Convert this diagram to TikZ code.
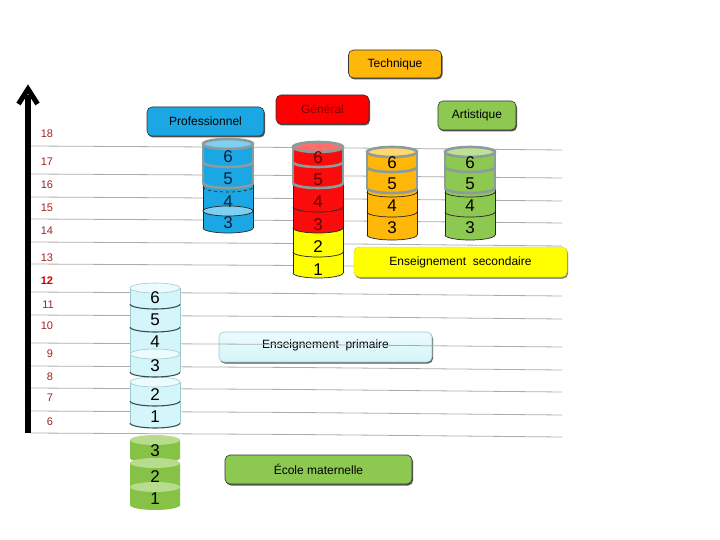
\documentclass[tikz,border=0pt]{standalone}
\usepackage{fontspec}
\setmainfont{Liberation Sans}
\usetikzlibrary{shadows}
\definecolor{cblue}{RGB}{27,167,228}
\definecolor{cbluel}{RGB}{125,208,242}
\definecolor{cred}{RGB}{250,12,12}
\definecolor{credl}{RGB}{255,110,110}
\definecolor{corange}{RGB}{255,183,10}
\definecolor{corangel}{RGB}{255,215,110}
\definecolor{cgreen}{RGB}{141,200,80}
\definecolor{cgreenl}{RGB}{190,225,150}
\definecolor{cyel}{RGB}{255,255,0}
\definecolor{ccyan}{RGB}{212,245,250}
\definecolor{ccyanl}{RGB}{236,251,253}
\definecolor{cmat}{RGB}{134,194,70}
\definecolor{cmatl}{RGB}{184,220,142}
\definecolor{frame}{RGB}{140,155,155}
\definecolor{gridc}{RGB}{172,172,172}
\definecolor{axred}{RGB}{160,35,35}
\definecolor{navy}{RGB}{16,30,58}
\definecolor{maroon}{RGB}{95,0,0}
\definecolor{cyanedge}{RGB}{160,200,208}
\definecolor{slate}{RGB}{50,80,80}
\newcommand\cbody[4]{\fill[#4] ({#1-25},#2) -- ({#1-25},#3) arc[start angle=180,end angle=0,x radius=25,y radius=5] -- ({#1+25},#2) -- cycle;}
\newcommand\cbot[3]{\draw[#3] ({#1-25},#2) arc[start angle=180,end angle=0,x radius=25,y radius=5];}
\newcommand\csides[4]{\draw[#4] ({#1-25},#2) -- ({#1-25},#3) ({#1+25},#2) -- ({#1+25},#3);}
\newcommand\ctop[4]{\filldraw[#4,fill=#3] (#1,#2) ellipse[x radius=25,y radius=5];}
\tikzset{
  box/.style={rounded corners=5pt, draw=black!80, line width=0.6pt, inner sep=0pt,
    font=\fontsize{12}{14}\selectfont,
    drop shadow={shadow xshift=1pt, shadow yshift=-1.5pt, fill=black!65, opacity=1}},
  num/.style={font=\fontsize{17}{19}\selectfont, inner sep=0pt},
  axlab/.style={font=\fontsize{11}{13}\selectfont, text=axred, inner sep=0pt},
  gray frame/.style={draw=frame, line width=2.6pt},
  thin dark/.style={draw=black!85, line width=0.7pt}
}
\begin{document}
\begin{tikzpicture}[x=1pt,y=-1pt]
\useasboundingbox (0,0) rectangle (720,540);
% primaire box (under the lines)
\node[box, draw=cyanedge, top color=ccyanl, bottom color=ccyan, minimum width=213pt, minimum height=30pt,
  drop shadow={shadow xshift=0.5pt, shadow yshift=-1.2pt, fill=black!60}] (prim) at (325.5,347) {};
\node[font=\fontsize{12}{14}\selectfont] (primt) at (325.5,345) {Enseignement~~primaire};
% grid lines
\foreach \y in {146,174,197,219,242,264,292,315,343,366,388,411,433}{
  \draw[gridc, line width=0.8pt] (31,\y) -- (300,\y+1.5) -- (562,\y+4);
}
% axis
\coordinate (axb) at (28,433);
\coordinate (axt) at (28,95);
\draw[line width=6pt] (axb) -- (axt);
\draw[line width=5pt, line join=miter] (18.5,104) -- (28,89) -- (37.5,104);
% axis labels
\node[axlab] (l18) at (47,134) {18};
\node[axlab] (l17) at (47,162) {17};
\node[axlab] (l16) at (47,185) {16};
\node[axlab] (l15) at (47,208) {15};
\node[axlab] (l14) at (47,231) {14};
\node[axlab] (l13) at (47,258) {13};
\node[axlab, font=\fontsize{11}{13}\selectfont\bfseries, text=red!80!black] (l12) at (47,281) {12};
\node[axlab] (l11) at (48,305) {11};
\node[axlab] (l10) at (47,326) {10};
\node[axlab] (l9) at (50,354) {9};
\node[axlab] (l8) at (50,377) {8};
\node[axlab] (l7) at (50,398) {7};
\node[axlab] (l6) at (50,422) {6};
% title boxes
\node[box, fill=corange, minimum width=93pt, minimum height=28pt] (tech) at (395,64) {Technique};
\node[box, fill=cblue, minimum width=117pt, minimum height=29pt] (pro) at (205.5,121.5) {Professionnel};
\node[box, fill=red, text=maroon!80!red, minimum width=93pt, minimum height=29pt] (gen) at (322.5,109.5) {Général};
\node[box, fill=cgreen, minimum width=78pt, minimum height=29pt] (art) at (477,115.5) {Artistique};
\node[box, fill=cyel, draw=yellow!80!black, line width=0.4pt, minimum width=213pt, minimum height=30pt,
  drop shadow={shadow xshift=0.8pt, shadow yshift=-1.2pt, fill=black!25}] (sec) at (460.5,262) {Enseignement~~secondaire};
\node[box, fill=cgreen, minimum width=187pt, minimum height=29pt] (mat) at (318.5,469.5) {École maternelle};
% ---- blue column
\cbody{228}{211}{228}{cblue}
\cbody{228}{183}{211}{cblue}
\cbody{228}{162}{183}{cblue}
\cbody{228}{144}{162}{cblue}
\csides{228}{183}{228}{thin dark}
\cbot{228}{228}{thin dark}
\ctop{228}{211}{cbluel}{thin dark}
\cbot{228}{187}{thin dark, dashed}
\csides{228}{162}{183}{gray frame}
\cbot{228}{183}{gray frame}
\csides{228}{144}{162}{gray frame}
\cbot{228}{162}{gray frame}
\ctop{228}{144}{cbluel}{gray frame}
% ---- red / yellow column
\cbody{318}{252}{273}{cyel}
\cbody{318}{228}{252}{cyel}
\cbody{318}{207}{228}{cred}
\cbody{318}{183}{207}{cred}
\cbody{318}{162}{183}{cred}
\cbody{318}{147}{162}{cred}
\csides{318}{183}{273}{thin dark}
\cbot{318}{273}{thin dark}
\cbot{318}{252}{thin dark}
\cbot{318}{228}{thin dark}
\cbot{318}{207}{thin dark}
\csides{318}{162}{183}{gray frame}
\cbot{318}{183}{gray frame}
\csides{318}{147}{162}{gray frame}
\cbot{318}{162}{gray frame}
\ctop{318}{147}{credl}{gray frame}
% ---- orange column
\cbody{392}{212}{235}{corange}
\cbody{392}{188}{212}{corange}
\cbody{392}{167}{188}{corange}
\cbody{392}{152}{167}{corange}
\csides{392}{188}{235}{thin dark}
\cbot{392}{235}{thin dark}
\cbot{392}{212}{thin dark}
\cbot{392}{192}{thin dark}
\csides{392}{167}{188}{gray frame}
\cbot{392}{188}{gray frame}
\csides{392}{152}{167}{gray frame}
\cbot{392}{167}{gray frame}
\ctop{392}{152}{corangel}{gray frame}
% ---- green column
\cbody{470}{212}{235}{cgreen}
\cbody{470}{188}{212}{cgreen}
\cbody{470}{167}{188}{cgreen}
\cbody{470}{152}{167}{cgreen}
\csides{470}{188}{235}{thin dark}
\cbot{470}{235}{thin dark}
\cbot{470}{212}{thin dark}
\cbot{470}{192}{thin dark}
\csides{470}{167}{188}{gray frame}
\cbot{470}{188}{gray frame}
\csides{470}{152}{167}{gray frame}
\cbot{470}{167}{gray frame}
\ctop{470}{152}{cgreenl}{gray frame}
% ---- primary column
\cbody{155}{401}{423}{ccyan}
\cbody{155}{382}{401}{ccyan}
\cbody{155}{354}{372}{ccyan}
\cbody{155}{327}{354}{ccyan}
\cbody{155}{304}{327}{ccyan}
\cbody{155}{288}{304}{ccyan}
\csides{155}{288}{372}{draw=cyanedge, line width=0.6pt}
\csides{155}{382}{423}{draw=cyanedge, line width=0.6pt}
\ctop{155}{354}{ccyanl}{draw=cyanedge, line width=0.6pt}
\ctop{155}{382}{ccyanl}{draw=cyanedge, line width=0.6pt}
\ctop{155}{288}{ccyanl}{draw=cyanedge, line width=0.6pt}
\cbot{155}{304}{draw=slate, line width=1.1pt}
\cbot{155}{327}{draw=slate, line width=1.1pt}
\cbot{155}{372}{draw=slate, line width=1.1pt}
\cbot{155}{401}{draw=slate, line width=1.1pt}
\cbot{155}{423}{draw=slate, line width=1.1pt}
% ---- maternelle column
\cbody{155}{487}{505}{cmat}
\cbody{155}{463}{487}{cmat}
\cbody{155}{440}{458}{cmat}
\ctop{155}{440}{cmatl}{draw=none}
\ctop{155}{463}{cmatl}{draw=none}
\ctop{155}{487}{cmatl}{draw=none}
% numbers
\node[num, text=navy] (b6) at (228,157) {6};
\node[num, text=navy] (b5) at (228,179) {5};
\node[num, text=navy] (b4) at (228,202) {4};
\node[num, text=navy] (b3) at (228,223) {3};
\node[num, text=maroon] (r6) at (318,158) {6};
\node[num, text=maroon] (r5) at (318,180) {5};
\node[num, text=maroon] (r4) at (318,202) {4};
\node[num, text=maroon] (r3) at (318,225) {3};
\node[num] (r2) at (318,247) {2};
\node[num] (r1) at (318,270) {1};
\node[num] (o6) at (392,163) {6};
\node[num] (o5) at (392,184) {5};
\node[num] (o4) at (392,206) {4};
\node[num] (o3) at (392,228) {3};
\node[num] (g6) at (470,163) {6};
\node[num] (g5) at (470,184) {5};
\node[num] (g4) at (470,206) {4};
\node[num] (g3) at (470,228) {3};
\node[num] (p6) at (155,298) {6};
\node[num] (p5) at (155,320) {5};
\node[num] (p4) at (155,342) {4};
\node[num] (p3) at (155,366) {3};
\node[num] (p2) at (155,395) {2};
\node[num] (p1) at (155,417) {1};
\node[num] (m3) at (155,451) {3};
\node[num] (m2) at (155,477) {2};
\node[num] (m1) at (155,499) {1};
\end{tikzpicture}
\end{document}
